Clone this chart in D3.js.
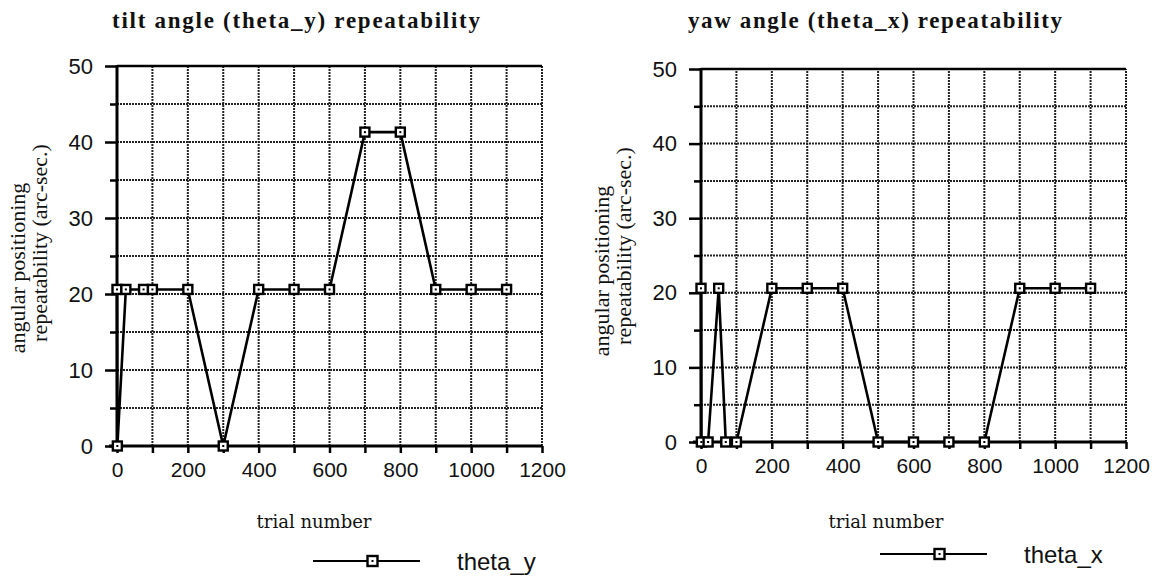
<!DOCTYPE html>
<html>
<head>
<meta charset="utf-8">
<script src="https://d3js.org/d3.v7.min.js"></script>
<style>
  body { margin: 0; background: #fff; }
  svg { display: block; }
</style>
</head>
<body>
<script>
// values
const yTicks = [0, 10, 20, 30, 40, 50];
const xTicks = [0, 200, 400, 600, 800, 1000, 1200];

const tiltTrials = [0, 1, 25, 75, 100, 200, 300, 400, 500, 600, 700, 800, 900, 1000, 1100];
const tiltValues = [20.6, 0, 20.6, 20.6, 20.6, 20.6, 0, 20.6, 20.6, 20.6, 41.3, 41.3, 20.6, 20.6, 20.6];

const yawTrials = [0, 1, 20, 50, 70, 100, 200, 300, 400, 500, 600, 700, 800, 900, 1000, 1100];
const yawValues = [20.6, 0, 0, 20.6, 0, 0, 20.6, 20.6, 20.6, 0, 0, 0, 0, 20.6, 20.6, 20.6];

const svg = d3.select("body").append("svg")
  .attr("width", 1163)
  .attr("height", 580);

function drawPanel(p) {
  const x = d3.scaleLinear().domain([0, 1200]).range([p.left, p.right]);
  const y = d3.scaleLinear().domain([0, 50]).range([p.bottom, p.top]);
  const g = svg.append("g");

  // dotted grid
  g.selectAll(".vgrid")
    .data(d3.range(100, 1201, 100))
    .enter().append("line")
    .attr("x1", d => x(d)).attr("x2", d => x(d))
    .attr("y1", y(0)).attr("y2", y(50))
    .style("stroke", "#222").style("stroke-width", 2)
    .style("stroke-dasharray", "2,1");
  g.selectAll(".hgrid")
    .data(d3.range(5, 50, 5))
    .enter().append("line")
    .attr("x1", x(0)).attr("x2", x(1200))
    .attr("y1", d => y(d)).attr("y2", d => y(d))
    .style("stroke", "#222").style("stroke-width", 2)
    .style("stroke-dasharray", "2,1");
  // top border
  g.append("line")
    .attr("x1", x(0)).attr("x2", x(1200))
    .attr("y1", y(50)).attr("y2", y(50))
    .style("stroke", "#000").style("stroke-width", 2.5);

  // y axis
  const yAxis = d3.axisLeft(y)
    .tickValues(d3.range(0, 51, 5))
    .tickSize(12)
    .tickPadding(12)
    .tickFormat(d => yTicks.includes(d) ? d : "");
  const ya = g.append("g")
    .attr("transform", "translate(" + x(0) + ",0)")
    .call(yAxis);
  ya.select(".domain").remove();
  ya.selectAll(".tick line")
    .style("stroke-width", 2.5)
    .attr("x2", d => yTicks.includes(d) ? -12 : -7);
  ya.selectAll(".tick text")
    .style("font-family", "'Liberation Sans', Arial, sans-serif")
    .style("font-size", "22px")
    .style("fill", "#111");

  // x axis
  const xAxis = d3.axisBottom(x)
    .tickValues(d3.range(0, 1201, 100))
    .tickSize(7)
    .tickPadding(9)
    .tickFormat(d => xTicks.includes(d) ? d : "");
  const xa = g.append("g")
    .attr("transform", "translate(0," + y(0) + ")")
    .call(xAxis);
  xa.select(".domain").remove();
  xa.selectAll(".tick line").style("stroke-width", 2.5);
  xa.selectAll(".tick text")
    .style("font-family", "'Liberation Sans', Arial, sans-serif")
    .style("font-size", "21px")
    .style("fill", "#111");

  // axis lines
  g.append("line")
    .attr("x1", x(0)).attr("x2", x(0))
    .attr("y1", y(0) + 1).attr("y2", y(50) - 1)
    .style("stroke", "#000").style("stroke-width", 3);
  g.append("line")
    .attr("x1", x(0) - 8).attr("x2", x(1200))
    .attr("y1", y(0)).attr("y2", y(0))
    .style("stroke", "#000").style("stroke-width", 3);

  // series line
  const pts = p.trials.map((t, i) => [t, p.values[i]]);
  g.append("path")
    .datum(pts)
    .attr("d", d3.line().x(d => x(d[0])).y(d => y(d[1])))
    .style("fill", "none").style("stroke", "#000").style("stroke-width", 2.6);

  // square markers
  const m = g.selectAll(".point")
    .data(pts)
    .enter().append("g")
    .attr("class", "point")
    .attr("transform", d => "translate(" + x(d[0]) + "," + y(d[1]) + ")");
  m.append("rect")
    .attr("x", -4.5).attr("y", -4.5).attr("width", 9).attr("height", 9)
    .style("fill", "#fff").style("stroke", "#000").style("stroke-width", 2.4);
  m.append("rect")
    .attr("x", -1).attr("y", -1).attr("width", 2).attr("height", 2)
    .style("fill", "#000");

  // title
  svg.append("text")
    .attr("x", p.titleX).attr("y", 28)
    .attr("text-anchor", "middle")
    .attr("textLength", p.titleW)
    .style("font-family", "'Liberation Serif', 'DejaVu Serif', serif")
    .style("font-weight", "bold")
    .style("font-size", "23px")
    .style("fill", "#111")
    .text(p.title);

  // y title (two lines)
  [["angular positioning", p.left - 92, 268], ["repeatability (arc-sec.)", p.left - 70, 243]].forEach(function(l) {
    svg.append("text")
      .attr("transform", "translate(" + l[1] + "," + (l[2] + p.top - 66) + ") rotate(-90)")
      .attr("text-anchor", "middle")
      .style("font-family", "'Liberation Serif', 'DejaVu Serif', serif")
      .style("font-size", "22px")
      .style("fill", "#111")
      .text(l[0]);
  });

  // x title
  svg.append("text")
    .attr("x", p.xTitleX).attr("y", 528)
    .attr("text-anchor", "middle")
    .style("font-family", "'DejaVu Serif', 'Liberation Serif', serif")
    .style("font-size", "18px")
    .style("fill", "#111")
    .text("trial number");

  // legend
  const lg = svg.append("g").attr("transform", "translate(" + p.legX + "," + p.legY + ")");
  lg.append("line")
    .attr("x1", 0).attr("x2", 107).attr("y1", 0).attr("y2", 0)
    .style("stroke", "#000").style("stroke-width", 2.2);
  lg.append("rect")
    .attr("x", 54.5).attr("y", -5).attr("width", 10).attr("height", 10)
    .style("fill", "#fff").style("stroke", "#000").style("stroke-width", 2.4);
  lg.append("rect")
    .attr("x", 58.5).attr("y", -1).attr("width", 2).attr("height", 2)
    .style("fill", "#000");
  lg.append("text")
    .attr("x", 144).attr("y", 9)
    .style("font-family", "'Liberation Sans', Arial, sans-serif")
    .style("font-size", "24px")
    .style("fill", "#111")
    .text(p.series);
}

drawPanel({
  left: 117, right: 542, top: 66, bottom: 446,
  trials: tiltTrials, values: tiltValues,
  title: "tilt angle (theta_y) repeatability", titleX: 296, titleW: 368,
  xTitleX: 314, legX: 313, legY: 561, series: "theta_y"
});

drawPanel({
  left: 701, right: 1126, top: 69, bottom: 442,
  trials: yawTrials, values: yawValues,
  title: "yaw angle (theta_x) repeatability", titleX: 875, titleW: 374,
  xTitleX: 886, legX: 880, legY: 554, series: "theta_x"
});
</script>
</body>
</html>
